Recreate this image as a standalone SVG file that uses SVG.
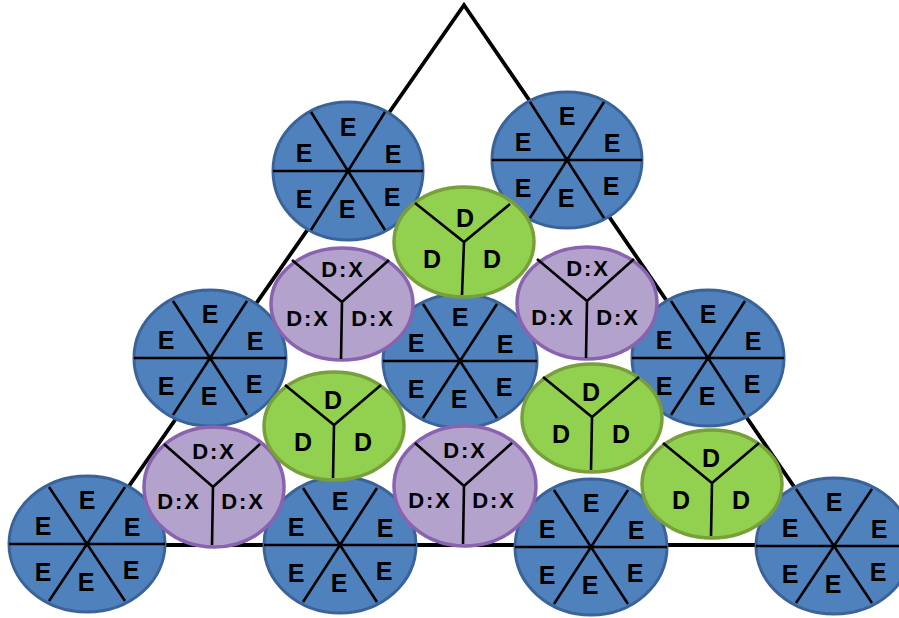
<svg xmlns="http://www.w3.org/2000/svg" width="899" height="618" viewBox="0 0 899 618">
<style>
.tri{fill:none;stroke:#000;stroke-width:3.8;stroke-linejoin:miter}
.e{fill:#4F81BD;stroke:#3A639A;stroke-width:3}
.g{fill:#92D050;stroke:#77A03A;stroke-width:3.5}
.p{fill:#B3A2CC;stroke:#8A63B0;stroke-width:3.5}
.s{stroke:#000;stroke-width:2.6;fill:none;stroke-linecap:butt}
.t{font-family:"Liberation Sans",Arial,sans-serif;font-weight:bold;font-size:25px;text-anchor:middle;fill:#000}
.tx{font-family:"Liberation Sans",Arial,sans-serif;font-weight:bold;font-size:22px;letter-spacing:1.8px;text-anchor:middle;fill:#000}
</style>
<rect width="899" height="618" fill="#fff"/>
<g id="connectors">
<path class="tri" d="M88,545 L464,5 L834,545 Z"/>
</g>

<g id="E1" transform="translate(348,171)">
<ellipse class="e" rx="75" ry="69"/>
<path class="s" d="M-75,0H75M-37,-59L37,59M37,-59L-37,59"/>
<text class="t" x="0" y="-35">E</text><text class="t" x="-44" y="-9">E</text><text class="t" x="45" y="-8">E</text>
<text class="t" x="-44" y="37">E</text><text class="t" x="-1" y="47">E</text><text class="t" x="44" y="35">E</text>
</g>
<g id="E2" transform="translate(567,160)">
<ellipse class="e" rx="75" ry="68"/>
<path class="s" d="M-75,0H75M-37,-58L37,58M37,-58L-37,58"/>
<text class="t" x="0" y="-35">E</text><text class="t" x="-44" y="-9">E</text><text class="t" x="45" y="-8">E</text>
<text class="t" x="-44" y="37">E</text><text class="t" x="-1" y="47">E</text><text class="t" x="44" y="35">E</text>
</g>
<g id="E3" transform="translate(210,358)">
<ellipse class="e" rx="76" ry="68"/>
<path class="s" d="M-76,0H76M-37,-57L37,57M37,-57L-37,57"/>
<text class="t" x="0" y="-35">E</text><text class="t" x="-44" y="-9">E</text><text class="t" x="45" y="-8">E</text>
<text class="t" x="-44" y="37">E</text><text class="t" x="-1" y="47">E</text><text class="t" x="44" y="35">E</text>
</g>
<g id="E4" transform="translate(460,361)">
<ellipse class="e" rx="77" ry="67"/>
<path class="s" d="M-77,0H77M-37,-57L37,57M37,-57L-37,57"/>
<text class="t" x="0" y="-35">E</text><text class="t" x="-44" y="-9">E</text><text class="t" x="45" y="-8">E</text>
<text class="t" x="-44" y="37">E</text><text class="t" x="-1" y="47">E</text><text class="t" x="44" y="35">E</text>
</g>
<g id="E5" transform="translate(708,358)">
<ellipse class="e" rx="76" ry="68"/>
<path class="s" d="M-76,0H76M-37,-57L37,57M37,-57L-37,57"/>
<text class="t" x="0" y="-35">E</text><text class="t" x="-44" y="-9">E</text><text class="t" x="45" y="-8">E</text>
<text class="t" x="-44" y="37">E</text><text class="t" x="-1" y="47">E</text><text class="t" x="44" y="35">E</text>
</g>
<g id="E6" transform="translate(87,544)">
<ellipse class="e" rx="78" ry="68"/>
<path class="s" d="M-78,0H78M-38,-57L38,57M38,-57L-38,57"/>
<text class="t" x="0" y="-35">E</text><text class="t" x="-44" y="-9">E</text><text class="t" x="45" y="-8">E</text>
<text class="t" x="-44" y="37">E</text><text class="t" x="-1" y="47">E</text><text class="t" x="44" y="35">E</text>
</g>
<g id="E7" transform="translate(340,545)">
<ellipse class="e" rx="76" ry="68"/>
<path class="s" d="M-76,0H76M-37,-57L37,57M37,-57L-37,57"/>
<text class="t" x="0" y="-35">E</text><text class="t" x="-44" y="-9">E</text><text class="t" x="45" y="-8">E</text>
<text class="t" x="-44" y="37">E</text><text class="t" x="-1" y="47">E</text><text class="t" x="44" y="35">E</text>
</g>
<g id="E8" transform="translate(591,547)">
<ellipse class="e" rx="76" ry="68"/>
<path class="s" d="M-76,0H76M-37,-57L37,57M37,-57L-37,57"/>
<text class="t" x="0" y="-35">E</text><text class="t" x="-44" y="-9">E</text><text class="t" x="45" y="-8">E</text>
<text class="t" x="-44" y="37">E</text><text class="t" x="-1" y="47">E</text><text class="t" x="44" y="35">E</text>
</g>
<g id="E9" transform="translate(834,546)">
<ellipse class="e" rx="78" ry="68"/>
<path class="s" d="M-78,0H78M-38,-57L38,57M38,-57L-38,57"/>
<text class="t" x="0" y="-35">E</text><text class="t" x="-44" y="-9">E</text><text class="t" x="45" y="-8">E</text>
<text class="t" x="-44" y="37">E</text><text class="t" x="-1" y="47">E</text><text class="t" x="44" y="35">E</text>
</g>

<g id="P1" transform="translate(342,304)">
<ellipse class="p" rx="71" ry="56"/>
<path class="s" d="M-50,-44L0,-2L47,-44M0,-2L-1,55"/>
<text class="tx" x="1" y="-27">D:X</text><text class="tx" x="-34" y="22">D:X</text><text class="tx" x="31" y="22">D:X</text>
</g>
<g id="P2" transform="translate(587,303)">
<ellipse class="p" rx="70" ry="56"/>
<path class="s" d="M-50,-44L0,-2L47,-44M0,-2L-1,55"/>
<text class="tx" x="1" y="-27">D:X</text><text class="tx" x="-34" y="22">D:X</text><text class="tx" x="31" y="22">D:X</text>
</g>
<g id="P3" transform="translate(214,487)">
<ellipse class="p" rx="70" ry="60"/>
<path class="s" d="M-50,-43L-1,0L46,-43M-1,0L-2,58"/>
<text class="tx" x="0" y="-28">D:X</text><text class="tx" x="-35" y="22">D:X</text><text class="tx" x="29" y="22">D:X</text>
</g>
<g id="P4" transform="translate(465,486)">
<ellipse class="p" rx="71" ry="60"/>
<path class="s" d="M-50,-43L-1,0L47,-43M-1,0L-2,58"/>
<text class="tx" x="0" y="-28">D:X</text><text class="tx" x="-35" y="22">D:X</text><text class="tx" x="29" y="22">D:X</text>
</g>

<g id="G1" transform="translate(464,242)">
<ellipse class="g" rx="70" ry="55"/>
<path class="s" d="M-49,-39L0,0L46,-38M0,0L-2,53"/>
<text class="t" x="1" y="-15">D</text><text class="t" x="-32" y="26">D</text><text class="t" x="28" y="26">D</text>
</g>
<g id="G2" transform="translate(334,426)">
<ellipse class="g" rx="70" ry="54"/>
<path class="s" d="M-49,-41L0,-1L47,-41M0,-1L-1,52"/>
<text class="t" x="-1" y="-17">D</text><text class="t" x="-31" y="25">D</text><text class="t" x="29" y="25">D</text>
</g>
<g id="G3" transform="translate(592,418)">
<ellipse class="g" rx="70" ry="54"/>
<path class="s" d="M-49,-41L0,-1L47,-41M0,-1L-1,52"/>
<text class="t" x="-1" y="-17">D</text><text class="t" x="-31" y="25">D</text><text class="t" x="29" y="25">D</text>
</g>
<g id="G4" transform="translate(712,484)">
<ellipse class="g" rx="70" ry="54"/>
<path class="s" d="M-49,-41L0,-1L47,-41M0,-1L-1,52"/>
<text class="t" x="-1" y="-17">D</text><text class="t" x="-31" y="25">D</text><text class="t" x="29" y="25">D</text>
</g>
</svg>
